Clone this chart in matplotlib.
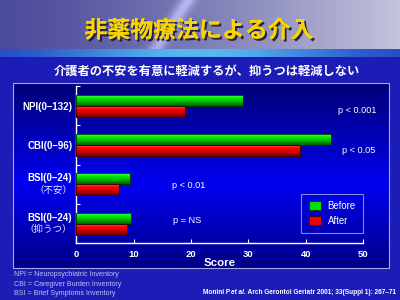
import numpy as np
import matplotlib
matplotlib.use("Agg")
import matplotlib.pyplot as plt
import matplotlib.patheffects as pe
from matplotlib.colors import LinearSegmentedColormap

# ---- data ----
categories = ["NPI(0–132)", "CBI(0–96)", "BSI(0–24)", "BSI(0–24)"]
sublabels = ["", "", "（不安）", "（抑うつ）"]
before = [29.0, 44.4, 9.3, 9.6]
after = [19.0, 39.0, 7.5, 8.9]
pvals = ["p < 0.001", "p < 0.05", "p < 0.01", "p = NS"]
xticks = [0, 10, 20, 30, 40, 50]
title = "非薬物療法による介入"
subtitle = "介護者の不安を有意に軽減するが、抑うつは軽減しない"
footnotes = ["NPI = Neuropsychiatric Inventory",
             "CBI = Caregiver Burden Inventory",
             "BSI = Brief Symptoms Inventory"]
citation = ["Monini P ", "et al.", " Arch Gerontol Geriatr 2001; 33(Suppl 1): 267–71"]

LAT = ["Liberation Sans", "Noto Sans CJK JP", "DejaVu Sans"]
CJK = ["Noto Sans CJK JP", "DejaVu Sans"]

fig = plt.figure(figsize=(4, 3), dpi=100)

# ---- background ----
bg = fig.add_axes([0, 0, 1, 1], zorder=-10)
bg.set_xlim(0, 400)
bg.set_ylim(300, 0)
bg.axis("off")
bg.add_patch(plt.Rectangle((0, 0), 400, 300, color="#1c1cb6", zorder=0))
hx = np.linspace(0, 1, 200)
hy = np.linspace(0, 1, 50)
X, Y = np.meshgrid(hx, hy)
c0 = np.array([0x4c, 0x4c, 0x9c]) / 255
c1 = np.array([0xc4, 0xc4, 0xdc]) / 255
t = np.clip(X ** 1.3, 0, 1)
streak = np.exp(-((X - 0.47 + 0.08 * Y) ** 2) / 0.0004) * 0.25
img = c0[None, None, :] * (1 - t[..., None]) + c1[None, None, :] * t[..., None]
img = np.clip(img + streak[..., None], 0, 1)
bg.imshow(img, extent=[0, 400, 49, 0], aspect="auto", zorder=1, interpolation="bilinear")
bx = np.linspace(0, 1, 200)
band_t = np.exp(-((bx - 0.5) ** 2) / 0.12)
cb0 = np.array([0x20, 0x40, 0xc0]) / 255
cb1 = np.array([0x58, 0xb8, 0xf4]) / 255
band = cb0[None, :] * (1 - band_t[:, None]) + cb1[None, :] * band_t[:, None]
bg.imshow(band[None, :, :], extent=[0, 400, 57, 49], aspect="auto", zorder=1, interpolation="bilinear")
py = np.linspace(0, 1, 100)
pc_top = np.array([0x00, 0x00, 0x78]) / 255
pc_mid = np.array([0x00, 0x00, 0xf0]) / 255
pc_bot = np.array([0x00, 0x00, 0x88]) / 255
col = []
for v in py:
    if v < 0.55:
        s = v / 0.55
        col.append(pc_top * (1 - s) + pc_mid * s)
    else:
        s = (v - 0.55) / 0.45
        col.append(pc_mid * (1 - s) + pc_bot * s)
col = np.array(col)[:, None, :]
bg.imshow(col, extent=[13, 389, 268, 83], aspect="auto", zorder=2, interpolation="bilinear")
bg.add_patch(plt.Rectangle((13, 83), 376, 185, fill=False, edgecolor="#a8a8e8", lw=0.8, zorder=3))

# ---- titles ----
fig.text(0.497, 0.897, title, ha="center", va="center", fontsize=16.5, fontweight="bold",
         color="#f8d400", family=CJK,
         path_effects=[pe.withSimplePatchShadow(offset=(1.5, -1.5), shadow_rgbFace="#1a1a40", alpha=0.9),
                       pe.Normal()])
fig.text(0.517, 0.763, subtitle, ha="center", va="center", fontsize=8.8, fontweight="bold",
         color="white", family=CJK)

# ---- chart ----
ax = fig.add_axes([0.191, 0.189, 0.7165, 0.524])
ax.set_facecolor("none")
ypos = np.arange(len(categories))
h = 0.28
gb = ax.barh(ypos - h / 2, before, height=h, color="#00e000", edgecolor="#003000", lw=0.6, zorder=3, label="Before")
ra = ax.barh(ypos + h / 2, after, height=h, color="#f00000", edgecolor="#400000", lw=0.6, zorder=3, label="After")

gcm = LinearSegmentedColormap.from_list("g", ["#60ff60", "#00f000", "#00b000", "#006000"])
rcm = LinearSegmentedColormap.from_list("r", ["#ff6060", "#ff0000", "#c80000", "#700000"])
grad = np.linspace(0, 1, 32)[:, None]
for bars, cm in ((gb, gcm), (ra, rcm)):
    for r in bars:
        x0, y0, w, hh = r.get_x(), r.get_y(), r.get_width(), r.get_height()
        im = ax.imshow(grad, extent=[x0, x0 + w, y0, y0 + hh], origin="lower", cmap=cm,
                       aspect="auto", zorder=3.5, interpolation="bilinear")
        im.set_clip_path(r)
        edge = plt.Rectangle((x0, y0), w, hh, fill=False, edgecolor=r.get_edgecolor(), lw=0.6, zorder=4)
        ax.add_patch(edge)

ax.set_xlim(0, 50)
ax.set_ylim(3.5, -0.5)
ax.set_aspect("auto")
for s in ("top", "right"):
    ax.spines[s].set_visible(False)
for s in ("left", "bottom"):
    ax.spines[s].set_color("white")
    ax.spines[s].set_linewidth(1.0)

ax.set_xticks(xticks)
ax.set_xticklabels([str(v) for v in xticks], fontsize=6.8, fontweight="bold", color="white", family=LAT)
ax.tick_params(axis="x", direction="in", length=3, color="white", pad=5)
ax.set_yticks([-0.5, 0.5, 1.5, 2.5])
ax.set_yticklabels([])
ax.tick_params(axis="y", direction="in", length=3, color="white")
ax.set_xlabel("Score", fontsize=8.2, fontweight="bold", color="white", family=LAT, labelpad=-1)

for i, (lab, sub) in enumerate(zip(categories, sublabels)):
    if sub:
        ax.text(-0.7, i - 0.15, lab, ha="right", va="center", fontsize=7.0, fontweight="bold",
                color="white", family=LAT)
        ax.text(-0.7, i + 0.14, sub, ha="right", va="center", fontsize=6.8,
                color="#e8e8ff", family=CJK)
    else:
        ax.text(-0.7, i + 0.03, lab, ha="right", va="center", fontsize=7.0, fontweight="bold",
                color="white", family=LAT)

p_x = [45.7, 46.3, 16.7, 16.8]
p_y = [0.13, 1.15, 2.04, 2.93]
for txt, px, pyy in zip(pvals, p_x, p_y):
    ax.text(px, pyy, txt, ha="left", va="center", fontsize=6.6, color="white", family=LAT)

leg = ax.legend(loc="lower right", bbox_to_anchor=(1.0, 0.064), borderaxespad=0,
                frameon=True, fancybox=False, prop={"family": LAT, "size": 6.9},
                labelcolor="white", handlelength=1.3, handleheight=1.0, borderpad=0.75,
                labelspacing=0.55, handletextpad=0.7)
leg.get_frame().set_facecolor("none")
leg.get_frame().set_edgecolor("#a8a8e8")
leg.get_frame().set_linewidth(0.8)

for k, fn in enumerate(footnotes):
    fig.text(0.035, 1 - (275 + 9.2 * k) / 300, fn, ha="left", va="center", fontsize=5.1,
             color="#c0c0f0", family=LAT)

# citation, right aligned, built from right to left
renderer = fig.canvas.get_renderer()
xr = 0.99
yc = 1 - 293 / 300
styles = ["normal", "italic", "normal"]
for piece, st in zip(reversed(citation), reversed(styles)):
    tt = fig.text(xr, yc, piece, ha="right", va="center", fontsize=4.7, fontweight="bold",
                  fontstyle=st, color="white", family=LAT)
    bb = tt.get_window_extent(renderer=renderer)
    xr = bb.x0 / fig.bbox.width

fig.savefig("out.png", dpi=100)
